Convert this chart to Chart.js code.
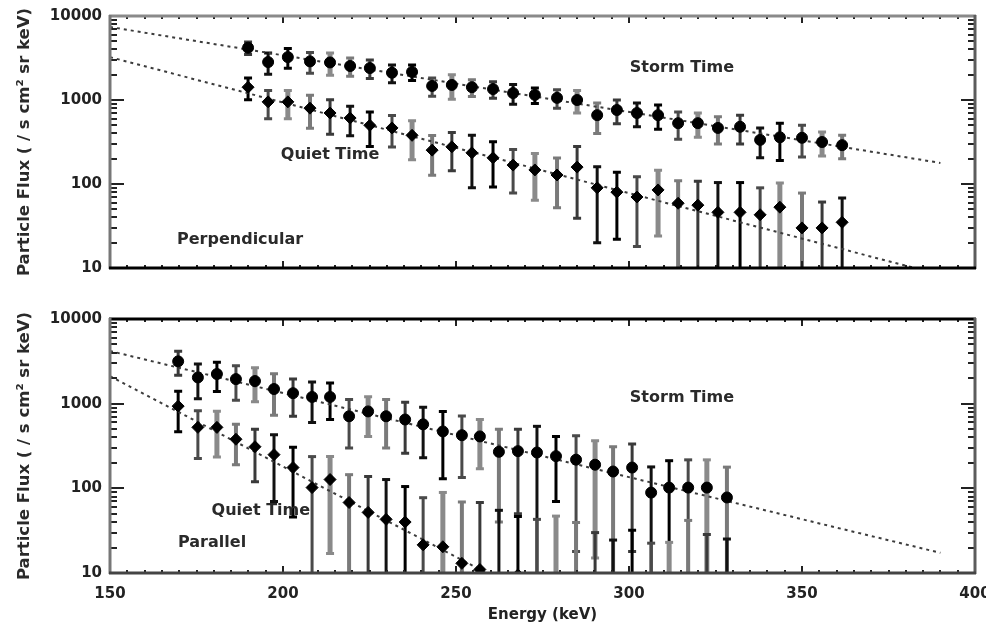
<!DOCTYPE html>
<html>
<head>
<meta charset="utf-8">
<script src="https://cdn.jsdelivr.net/npm/chart.js@4.4.1/dist/chart.umd.min.js"></script>
<style>
  html, body { margin: 0; padding: 0; background: #fff; }
  body { width: 986px; height: 627px; position: relative; overflow: hidden; }
  #wrapTop { position: absolute; left: 0; top: 0; width: 986px; height: 300px; }
  #wrapBot { position: absolute; left: 0; top: 300px; width: 986px; height: 327px; }
</style>
</head>
<body>
<div id="wrapTop"><canvas id="cTop" width="986" height="300"></canvas></div>
<div id="wrapBot"><canvas id="cBot" width="986" height="327"></canvas></div>
<script>
// ---------------- DATA ----------------
const yTickLabels = [10, 100, 1000, 10000];
const xTickLabels = [150, 200, 250, 300, 350, 400];
const yTitle = 'Particle Flux ( / s cm\u00B2 sr keV)';
const xTitle = 'Energy (keV)';

// Top panel: Perpendicular
const energyTop = [189.9, 195.7, 201.4, 207.8, 213.6, 219.4, 225.1, 231.5, 237.3, 243.1,
  248.8, 254.6, 260.7, 266.5, 272.8, 279.2, 285.0, 290.8, 296.5, 302.3,
  308.4, 314.2, 319.9, 325.7, 332.1, 337.9, 343.6, 350.0, 355.8, 361.6];
const stormTop = [4190, 2830, 3240, 2880, 2800, 2540, 2400, 2110, 2160, 1470,
  1510, 1420, 1350, 1210, 1150, 1060, 1000, 660, 760, 700,
  660, 530, 530, 465, 480, 335, 360, 355, 316, 290];
const stormTopErr = [700, 800, 850, 800, 830, 620, 600, 500, 450, 360,
  490, 320, 300, 320, 240, 260, 300, 260, 240, 220,
  210, 190, 170, 165, 180, 130, 170, 145, 100, 90];
const quietTop = [1420, 950, 950, 800, 700, 610, 500, 465, 380, 253,
  277, 235, 205, 168, 147, 128, 159, 90, 80, 70,
  85, 59, 56, 46, 46, 43, 53, 30, 30, 35];
const quietTopErr = [410, 350, 350, 340, 310, 235, 220, 190, 185, 126,
  133, 145, 113, 90, 83, 76, 120, 70, 58, 52,
  61, 50, 52, 58, 58, 47, 50, 48, 31, 33];
const fitStormTop = [[150, 7400], [390, 178]];
const fitQuietTop = [[150, 3240], [390, 8.3]];

// Bottom panel: Parallel
const energyBot = [169.7, 175.4, 180.9, 186.4, 191.9, 197.4, 202.9, 208.4, 213.6, 219.1,
  224.6, 229.8, 235.3, 240.5, 246.2, 251.7, 256.9, 262.4, 267.9, 273.4,
  278.9, 284.7, 290.2, 295.4, 300.9, 306.4, 311.6, 317.1, 322.5, 328.3];
const stormBot = [3160, 2040, 2240, 1950, 1850, 1490, 1330, 1200, 1200, 710,
  810, 710, 650, 570, 470, 424, 410, 270, 275, 265,
  240, 218, 190, 158, 176, 89, 102, 102, 102, 78];
const stormBotErr = [1000, 900, 850, 850, 800, 760, 620, 600, 550, 410,
  400, 410, 390, 340, 340, 290, 240, 230, 225, 275,
  170, 200, 175, 152, 158, 90, 110, 115, 115, 100];
const quietBot = [935, 525, 525, 380, 310, 250, 176, 102, 127, 68,
  52, 43, 40, 21.5, 20.4, 13, 11, 8, 9.5, 8,
  7, 6.5, 6, 5.5, 5, 4.5, 4, 3.8, 3.5, 3.2];
const quietBotErr = [470, 300, 290, 190, 190, 180, 130, 135, 110, 77,
  86, 84, 65, 56, 69, 56, 57, 47, 37, 35,
  40, 33, 24, 19, 27, 18, 19, 38, 25, 22];
const fitStormBot = [[150, 4190], [390, 17.3]];
const fitQuietBot = [[150, 2110], [270, 5.8]];

// ---------------- STYLE ----------------
Chart.defaults.font.family = "'DejaVu Sans', 'Liberation Sans', sans-serif";
Chart.defaults.color = '#222';
const shades = [
  { c: '#000000', w: 3 }, { c: '#4a4a4a', w: 3 }, { c: '#8a8a8a', w: 5 },
  { c: '#7a7a7a', w: 4 }, { c: '#3a3a3a', w: 3 }, { c: '#111111', w: 3 }
];

function pts(xs, ys) { return xs.map((x, i) => ({ x: x, y: ys[i] })); }
function line(p) { return p.map(q => ({ x: q[0], y: q[1] })); }

const errorBarPlugin = {
  id: 'errbars',
  beforeDatasetsDraw(chart) {
    const ctx = chart.ctx, area = chart.chartArea;
    const xs = chart.scales.x, ys = chart.scales.y;
    ctx.save();
    ctx.beginPath();
    ctx.rect(area.left, area.top, area.right - area.left, area.bottom - area.top);
    ctx.clip();
    chart.data.datasets.forEach((ds, di) => {
      if (!ds.errors) return;
      ds.data.forEach((p, i) => {
        const e = ds.errors[i];
        const px = xs.getPixelForValue(p.x);
        const hi = p.y + e, lo = p.y - e;
        const yTop = ys.getPixelForValue(hi);
        const yBot = lo > 0 ? ys.getPixelForValue(lo) : area.bottom + 10;
        const s = shades[(i + di * 2) % shades.length];
        ctx.strokeStyle = s.c;
        ctx.lineWidth = s.w;
        ctx.beginPath();
        ctx.moveTo(px, yTop);
        ctx.lineTo(px, yBot);
        ctx.stroke();
        ctx.lineWidth = 3;
        ctx.beginPath();
        ctx.moveTo(px - 4, yTop); ctx.lineTo(px + 4, yTop);
        if (lo > 0) { ctx.moveTo(px - 4, yBot); ctx.lineTo(px + 4, yBot); }
        ctx.stroke();
      });
    });
    ctx.restore();
  }
};

const framePlugin = {
  id: 'frame',
  afterDraw(chart) {
    const o = chart.options.plugins.frame;
    const ctx = chart.ctx, a = chart.chartArea;
    const xs = chart.scales.x, ys = chart.scales.y;
    ctx.save();
    // axis ticks (inward, all four sides)
    ctx.strokeStyle = '#222';
    ctx.lineWidth = 2;
    for (let v = 150; v <= 400; v += 5) {
      const px = Math.round(xs.getPixelForValue(v));
      const len = (v % 50 === 0) ? 7 : 3;
      ctx.beginPath();
      ctx.moveTo(px, a.bottom); ctx.lineTo(px, a.bottom - len);
      ctx.moveTo(px, a.top); ctx.lineTo(px, a.top + len);
      ctx.stroke();
    }
    for (let d = 10; d < 10000; d *= 10) {
      for (let k = 1; k <= 10; k++) {
        const v = d * k;
        if (v > 10000) continue;
        const py = Math.round(ys.getPixelForValue(v));
        const major = (k === 1 || k === 10);
        const len = major ? 14 : 7;
        ctx.beginPath();
        ctx.moveTo(a.left, py); ctx.lineTo(a.left + len, py);
        ctx.moveTo(a.right, py); ctx.lineTo(a.right - len, py);
        ctx.stroke();
      }
    }
    // frame
    ctx.lineWidth = 3;
    const side = (c, x1, y1, x2, y2) => { ctx.strokeStyle = c; ctx.beginPath(); ctx.moveTo(x1, y1); ctx.lineTo(x2, y2); ctx.stroke(); };
    side(o.top, a.left - 1, a.top, a.right + 1, a.top);
    side(o.left, a.left, a.top - 1, a.left, a.bottom + 1);
    side(o.right, a.right, a.top - 1, a.right, a.bottom + 1);
    side(o.bottom, a.left - 1, a.bottom, a.right + 1, a.bottom);
    // annotations
    ctx.fillStyle = '#2a2a2a';
    ctx.font = "bold 16px 'DejaVu Sans'";
    ctx.textAlign = 'center';
    ctx.textBaseline = 'middle';
    o.notes.forEach(n => {
      ctx.fillText(n.text, xs.getPixelForValue(n.x), ys.getPixelForValue(n.y));
    });
    ctx.restore();
  }
};

function makeChart(canvasId, cfg) {
  const datasets = [
    { label: 'fitStorm', data: line(cfg.fitStorm), showLine: true, pointRadius: 0,
      borderColor: '#3c3c3c', borderWidth: 2, borderDash: [3, 4], order: 3 },
    { label: 'fitQuiet', data: line(cfg.fitQuiet), showLine: true, pointRadius: 0,
      borderColor: '#3c3c3c', borderWidth: 2, borderDash: [3, 4], order: 3 },
    { label: 'Storm Time', data: pts(cfg.energy, cfg.storm), errors: cfg.stormErr,
      pointStyle: 'circle', pointRadius: 5.5, backgroundColor: '#000', borderColor: '#000', order: 1 },
    { label: 'Quiet Time', data: pts(cfg.energy, cfg.quiet), errors: cfg.quietErr,
      pointStyle: 'rectRot', pointRadius: 6, backgroundColor: '#000', borderColor: '#000', order: 2 }
  ];
  return new Chart(document.getElementById(canvasId), {
    type: 'scatter',
    data: { datasets: datasets },
    plugins: [errorBarPlugin, framePlugin],
    options: {
      responsive: false,
      animation: false,
      devicePixelRatio: 1,
      layout: { padding: { left: 0, right: 11, top: cfg.padTop, bottom: 0 } },
      plugins: {
        legend: { display: false },
        tooltip: { enabled: false },
        frame: { top: cfg.frameTop, bottom: cfg.frameBottom, left: '#777', right: '#5c5c5c', notes: cfg.notes }
      },
      scales: {
        x: {
          type: 'linear', min: 150, max: 400,
          grid: { display: false, drawTicks: false },
          border: { display: false },
          afterFit(s) { s.height = cfg.xHeight; s.paddingLeft = 0; s.paddingRight = 0; },
          ticks: {
            display: cfg.showX, stepSize: 50, padding: 12, maxRotation: 0, autoSkip: false,
            font: { size: 15, weight: 'bold' }, color: '#222',
            callback: v => xTickLabels.includes(v) ? String(v) : ''
          },
          title: { display: cfg.showX, text: xTitle, font: { size: 15, weight: 'bold' }, color: '#222',
            padding: { top: 0, bottom: 3 } }
        },
        y: {
          type: 'logarithmic', min: 10, max: 10000,
          grid: { display: false, drawTicks: false },
          border: { display: false },
          afterFit(s) { s.width = 110; s.paddingTop = 0; s.paddingBottom = 0; },
          ticks: {
            padding: 8, autoSkip: false, font: { size: 15, weight: 'bold' }, color: '#222',
            callback: v => yTickLabels.includes(v) ? String(v) : ''
          },
          title: { display: true, text: yTitle, font: { size: 16.5, weight: 'bold' }, color: '#2a2a2a',
            padding: { top: 15, bottom: 0 } }
        }
      }
    }
  });
}

makeChart('cTop', {
  energy: energyTop, storm: stormTop, stormErr: stormTopErr, quiet: quietTop, quietErr: quietTopErr,
  fitStorm: fitStormTop, fitQuiet: fitQuietTop,
  padTop: 16, xHeight: 32, showX: false,
  frameTop: '#8a8a8a', frameBottom: '#000',
  notes: [
    { text: 'Storm Time', x: 315.3, y: 2400 },
    { text: 'Quiet Time', x: 213.6, y: 224 },
    { text: 'Perpendicular', x: 187.6, y: 21.6 }
  ]
});

makeChart('cBot', {
  energy: energyBot, storm: stormBot, stormErr: stormBotErr, quiet: quietBot, quietErr: quietBotErr,
  fitStorm: fitStormBot, fitQuiet: fitQuietBot,
  padTop: 19, xHeight: 54, showX: true,
  frameTop: '#000', frameBottom: '#444',
  notes: [
    { text: 'Storm Time', x: 315.3, y: 1160 },
    { text: 'Quiet Time', x: 193.6, y: 54 },
    { text: 'Parallel', x: 179.5, y: 22.7 }
  ]
});
</script>
</body>
</html>
